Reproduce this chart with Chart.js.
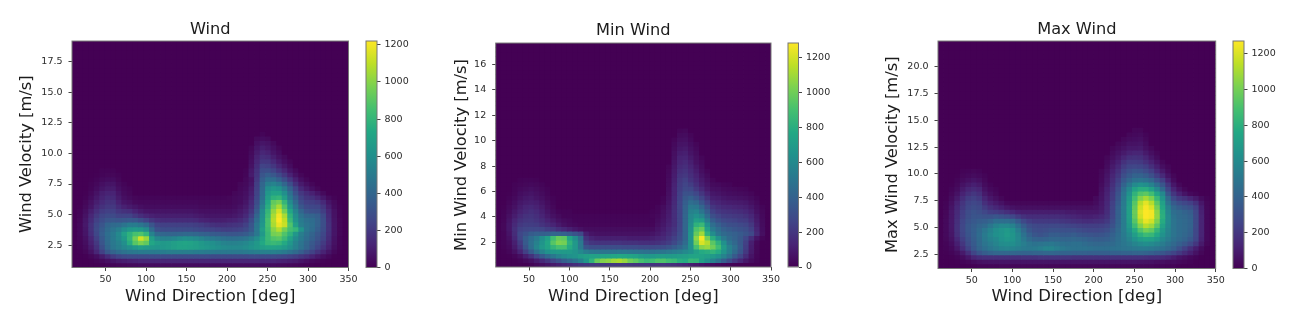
<!DOCTYPE html>
<html lang="en">
<head>
  <meta charset="UTF-8" />
  <title>Wind histograms</title>
  <style>
    body { margin: 0; background: #fff; }
    canvas { position: absolute; top: 0; filter: blur(0.45px); }
  </style>
</head>
<body>
  <canvas id="windHeat" width="362" height="323" style="left:0px"></canvas>
  <canvas id="windBar" width="70" height="323" style="left:360px"></canvas>
  <canvas id="minHeat" width="345" height="323" style="left:440px"></canvas>
  <canvas id="minBar" width="70" height="323" style="left:782px"></canvas>
  <canvas id="maxHeat" width="360" height="323" style="left:870px"></canvas>
  <canvas id="maxBar" width="70" height="323" style="left:1227px"></canvas>

  <script src="https://cdn.jsdelivr.net/npm/chart.js"></script>
  <script>
    // 2d histogram counts. One row per velocity bin, bottom row first,
    // 50 direction bins per row (missing trailing bins and rows are empty)
    const windCounts = [
      [0,0,0,0,0,5,10,15,20,25, 30,35,40,40,40,40,40,40,40,40, 40,40,40,40,40,40,40,40,40,40, 40,40,40,40,40,40,40,35,30,25, 20,15,10,5],
      [0,0,0,5,15,30,50,70,90,100, 110,120,130,130,130,130,130,130,130,130, 130,130,130,130,130,130,130,130,130,130, 130,130,130,130,130,130,130,120,110,100, 90,70,50,30,20,10,5],
      [0,0,5,20,45,90,150,210,250,270, 280,280,280,280,280,280,280,280,280,280, 280,280,280,280,280,270,270,270,270,270, 270,270,280,280,280,280,280,270,260,240, 220,190,160,120,80,50,25,5],
      [0,5,20,60,130,230,330,390,430,460, 480,490,500,500,500,500,510,520,520,520, 520,520,510,510,500,500,490,490,490,490, 490,500,510,520,530,530,530,520,500,460, 420,360,300,240,180,120,70,25,5],
      [0,10,35,90,170,290,400,480,520,560, 600,640,680,660,640,630,640,660,680,700, 700,690,680,660,640,620,600,580,570,570, 570,590,620,650,680,700,700,690,660,600, 530,460,390,320,250,180,110,45,10],
      [5,15,45,110,200,320,420,490,530,600, 750,900,970,920,720,670,650,660,680,700, 710,700,680,650,620,600,570,540,530,530, 540,560,600,650,730,800,820,800,740,640, 540,470,400,340,280,210,130,55,15],
      [5,20,55,130,230,340,430,500,560,650, 790,960,1130,1030,680,560,530,530,550,580, 600,590,570,540,510,490,470,450,440,440, 450,470,520,590,700,820,880,900,820,700, 580,500,430,370,310,240,150,60,15],
      [5,25,70,160,260,360,440,500,570,690, 780,860,880,800,540,420,400,390,390,400, 410,410,400,380,370,350,340,330,320,320, 330,350,400,490,650,820,960,980,880,780, 640,520,450,390,330,260,160,70,20],
      [5,25,75,170,270,350,420,470,520,590, 640,660,650,590,420,300,280,280,280,280, 280,280,270,260,250,240,230,220,220,230, 240,270,340,490,680,840,1000,1080,960,850, 800,620,480,430,360,280,170,70,20],
      [5,25,80,170,260,320,390,420,430,470, 510,510,480,430,320,240,230,230,230,230, 230,230,220,210,190,170,160,160,170,180, 190,230,320,480,640,860,1060,1180,1120,880, 680,520,470,440,380,290,170,70,20],
      [0,20,75,150,230,280,320,330,320,330, 340,330,290,240,190,160,150,150,150,150, 150,150,140,120,110,100,100,100,110,120, 140,180,280,440,620,860,1080,1220,1100,820, 620,500,450,430,380,290,160,65,20],
      [0,15,60,130,200,250,270,270,240,240, 240,200,160,130,110,100,100,100,100,100, 100,100,90,80,70,70,70,70,70,80, 100,140,230,400,600,830,1060,1200,1060,780, 590,460,400,390,360,270,150,60,15],
      [0,10,45,100,160,210,230,230,190,170, 160,120,90,70,65,65,65,65,65,65, 65,65,60,50,50,50,50,50,50,60, 80,110,190,350,580,800,1020,1140,960,720, 540,400,320,300,290,220,130,55,15],
      [0,5,30,70,130,170,200,200,150,110, 90,70,50,40,40,40,40,40,40,40, 40,40,40,30,30,30,30,30,30,40, 60,90,160,310,530,760,960,1060,880,640, 480,330,270,260,250,190,100,40,10],
      [0,0,20,55,100,140,170,170,110,70, 55,30,25,25,25,25,25,25,25,25, 25,25,25,20,20,20,20,20,20,30, 40,70,140,280,490,720,920,960,800,580, 420,280,230,220,200,140,70,30,5],
      [0,0,10,40,80,120,150,140,90,50, 35,20,15,15,15,15,15,15,15,15, 15,15,15,15,15,15,15,15,20,30, 40,60,120,260,450,680,780,800,680,500, 360,240,190,170,130,80,35,10],
      [0,0,5,25,60,100,120,120,70,35, 20,0,0,0,0,0,0,0,0,0, 0,0,0,0,0,0,0,0,0,20, 30,50,100,240,430,640,700,700,600,450, 300,200,150,110,70,30],
      [0,0,0,15,40,70,90,90,50,25, 15,0,0,0,0,0,0,0,0,0, 0,0,0,0,0,0,0,0,0,0, 25,40,90,230,420,600,640,620,520,380, 250,140,90,50,20],
      [0,0,0,10,25,50,65,65,35,15, 0,0,0,0,0,0,0,0,0,0, 0,0,0,0,0,0,0,0,0,0, 20,30,70,220,400,520,540,500,400,290, 170,90,50,20],
      [0,0,0,5,15,30,40,40,20,0, 0,0,0,0,0,0,0,0,0,0, 0,0,0,0,0,0,0,0,0,0, 0,25,60,200,360,440,430,370,290,200, 110,50,20],
      [0,0,0,0,5,15,20,20,10,0, 0,0,0,0,0,0,0,0,0,0, 0,0,0,0,0,0,0,0,0,0, 0,15,90,180,320,360,330,270,200,120, 60,20],
      [0,0,0,0,0,10,10,10,0,0, 0,0,0,0,0,0,0,0,0,0, 0,0,0,0,0,0,0,0,0,0, 0,10,80,170,280,290,250,190,130,70, 30],
      [0,0,0,0,0,0,0,0,0,0, 0,0,0,0,0,0,0,0,0,0, 0,0,0,0,0,0,0,0,0,0, 0,0,60,150,240,230,190,130,80,40],
      [0,0,0,0,0,0,0,0,0,0, 0,0,0,0,0,0,0,0,0,0, 0,0,0,0,0,0,0,0,0,0, 0,0,50,130,190,190,140,90,50,20],
      [0,0,0,0,0,0,0,0,0,0, 0,0,0,0,0,0,0,0,0,0, 0,0,0,0,0,0,0,0,0,0, 0,0,40,110,160,150,100,60,30],
      [0,0,0,0,0,0,0,0,0,0, 0,0,0,0,0,0,0,0,0,0, 0,0,0,0,0,0,0,0,0,0, 0,0,30,90,130,110,70,40],
      [0,0,0,0,0,0,0,0,0,0, 0,0,0,0,0,0,0,0,0,0, 0,0,0,0,0,0,0,0,0,0, 0,0,20,70,100,80,50,20],
      [0,0,0,0,0,0,0,0,0,0, 0,0,0,0,0,0,0,0,0,0, 0,0,0,0,0,0,0,0,0,0, 0,0,0,50,70,60,30],
      [0,0,0,0,0,0,0,0,0,0, 0,0,0,0,0,0,0,0,0,0, 0,0,0,0,0,0,0,0,0,0, 0,0,0,30,40,30],
      [0,0,0,0,0,0,0,0,0,0, 0,0,0,0,0,0,0,0,0,0, 0,0,0,0,0,0,0,0,0,0, 0,0,0,0,15]
    ];
    const minWindCounts = [
      [0,0,0,0,0,0,10,30,50,70, 90,110,130,150,170,190,200,210,210,210, 210,210,210,210,200,190,190,190,190,190, 190,180,170,150,130,110,90,70,50,35, 25,15,10,5],
      [0,0,0,5,15,35,60,100,150,200, 260,320,380,430,490,560,670,820,980,1040, 1060,1100,1120,1080,1000,960,900,860,880,920, 920,880,860,800,780,850,840,720,640,560, 480,380,290,210,140,80,40,15],
      [0,0,5,20,50,110,180,270,360,440, 510,570,610,640,660,700,720,730,730,740, 750,760,770,760,750,730,700,680,680,700, 700,690,700,710,720,740,750,740,720,690, 640,570,470,360,260,160,70,20],
      [0,5,20,60,130,240,360,470,570,650, 680,690,690,690,660,600,540,510,500,500, 500,500,510,510,500,490,490,480,480,490, 500,520,540,560,600,640,720,780,800,830, 780,660,550,440,340,210,90,25],
      [0,10,30,90,190,330,460,580,680,740, 840,900,900,780,680,520,330,300,300,300, 300,300,300,290,290,290,280,280,280,290, 300,330,370,420,500,640,900,1050,1080,1000, 880,700,560,470,360,230,100,25],
      [5,15,40,110,220,360,470,560,660,760, 940,1030,1010,820,680,520,240,200,190,190, 190,190,190,180,180,180,170,170,170,180, 200,230,280,350,450,640,1000,1210,1130,950, 820,640,500,430,350,240,110,30],
      [5,20,55,140,260,370,450,520,620,720, 880,980,960,760,620,460,180,130,110,110, 110,110,110,110,100,100,100,100,110,130, 150,190,240,310,420,660,1060,1270,1010,800, 640,520,440,400,350,270,170,70,20],
      [5,20,70,160,270,320,370,390,390,400, 420,410,400,370,330,280,110,70,60,60, 60,60,60,60,60,60,60,60,70,90, 120,160,210,290,420,660,980,1100,820,620, 500,440,410,390,360,330,280,150,50],
      [5,25,80,170,240,260,270,270,260,230, 210,170,140,110,80,60,40,40,40,40, 40,40,40,40,40,40,40,40,40,70, 100,140,190,270,420,640,920,980,720,530, 450,390,360,340,320,300,240,130,45],
      [5,25,80,150,210,230,230,220,190,160, 130,90,60,40,30,20,20,20,20,20, 20,20,20,20,20,20,20,20,20,50, 80,120,170,260,420,620,820,860,640,460, 390,340,310,300,280,260,210,110,40],
      [0,20,70,130,180,200,210,190,160,120, 90,60,40,30,15,15,15,15,15,15, 15,15,15,15,15,15,15,15,15,40, 70,110,170,260,420,600,720,700,540,380, 320,280,260,250,230,220,170,95,35],
      [0,15,55,100,150,180,190,170,130,90, 60,35,15,15,10,10,10,10,10,10, 10,10,10,10,10,10,10,10,20,30, 60,100,170,260,420,590,640,590,450,310, 260,230,220,210,200,180,140,80,30],
      [0,10,40,80,120,150,170,150,110,70, 40,15,10,10,0,0,0,0,0,0, 0,0,0,0,0,0,0,0,10,20, 50,90,170,260,410,560,580,500,380,250, 210,190,180,170,160,140,110,60,25],
      [0,5,30,60,100,130,140,120,90,50, 25,0,0,0,0,0,0,0,0,0, 0,0,0,0,0,0,0,0,0,15, 40,80,160,260,400,520,510,420,310,200, 170,150,140,130,120,110,80,45,15],
      [0,0,20,45,80,100,110,100,70,40, 15,0,0,0,0,0,0,0,0,0, 0,0,0,0,0,0,0,0,0,0, 20,70,150,260,380,460,430,340,240,150, 130,110,100,95,90,80,55,30],
      [0,0,10,30,60,80,90,70,50,25, 10,0,0,0,0,0,0,0,0,0, 0,0,0,0,0,0,0,0,0,0, 15,60,140,250,350,390,340,260,180,110, 100,80,70,65,60,50,35,15],
      [0,0,5,20,45,60,70,55,35,15, 0,0,0,0,0,0,0,0,0,0, 0,0,0,0,0,0,0,0,0,0, 0,50,130,240,320,320,270,200,130,80, 70,55,45,40,35,30,20],
      [0,0,0,15,30,40,50,40,25,10, 0,0,0,0,0,0,0,0,0,0, 0,0,0,0,0,0,0,0,0,0, 0,45,130,230,280,270,210,150,90,55, 50,35,30,25,20,15],
      [0,0,0,10,20,25,30,25,15,0, 0,0,0,0,0,0,0,0,0,0, 0,0,0,0,0,0,0,0,0,0, 0,40,120,220,260,230,170,110,70,35, 30,20,15],
      [0,0,0,0,10,15,15,10,0,0, 0,0,0,0,0,0,0,0,0,0, 0,0,0,0,0,0,0,0,0,0, 0,35,110,210,240,190,140,90,50,20],
      [0,0,0,0,0,0,0,0,0,0, 0,0,0,0,0,0,0,0,0,0, 0,0,0,0,0,0,0,0,0,0, 0,30,100,190,210,170,120,70,35],
      [0,0,0,0,0,0,0,0,0,0, 0,0,0,0,0,0,0,0,0,0, 0,0,0,0,0,0,0,0,0,0, 0,25,90,170,190,150,100,50,20],
      [0,0,0,0,0,0,0,0,0,0, 0,0,0,0,0,0,0,0,0,0, 0,0,0,0,0,0,0,0,0,0, 0,20,80,150,170,130,80,40],
      [0,0,0,0,0,0,0,0,0,0, 0,0,0,0,0,0,0,0,0,0, 0,0,0,0,0,0,0,0,0,0, 0,0,70,130,150,110,60,30],
      [0,0,0,0,0,0,0,0,0,0, 0,0,0,0,0,0,0,0,0,0, 0,0,0,0,0,0,0,0,0,0, 0,0,60,120,130,90,50,20],
      [0,0,0,0,0,0,0,0,0,0, 0,0,0,0,0,0,0,0,0,0, 0,0,0,0,0,0,0,0,0,0, 0,0,50,100,110,70,40],
      [0,0,0,0,0,0,0,0,0,0, 0,0,0,0,0,0,0,0,0,0, 0,0,0,0,0,0,0,0,0,0, 0,0,40,80,90,60,30],
      [0,0,0,0,0,0,0,0,0,0, 0,0,0,0,0,0,0,0,0,0, 0,0,0,0,0,0,0,0,0,0, 0,0,30,65,70,45,20],
      [0,0,0,0,0,0,0,0,0,0, 0,0,0,0,0,0,0,0,0,0, 0,0,0,0,0,0,0,0,0,0, 0,0,20,50,55,30],
      [0,0,0,0,0,0,0,0,0,0, 0,0,0,0,0,0,0,0,0,0, 0,0,0,0,0,0,0,0,0,0, 0,0,0,35,40,20],
      [0,0,0,0,0,0,0,0,0,0, 0,0,0,0,0,0,0,0,0,0, 0,0,0,0,0,0,0,0,0,0, 0,0,0,20,25]
    ];
    const maxWindCounts = [
      [0,0,0,0,0,5,5,10,10,15, 15,20,20,20,20,20,20,20,20,20, 20,20,20,20,20,20,20,20,20,20, 20,20,20,20,20,20,20,20,20,15, 15,10,10],
      [0,0,0,5,15,25,40,55,60,65, 65,70,70,70,70,70,70,70,70,70, 70,70,70,70,70,70,70,70,70,70, 70,70,70,70,70,70,65,60,60,50, 50,40,40,30,20,10],
      [0,0,5,15,40,80,130,160,170,170, 170,170,170,170,170,180,180,180,190,190, 190,190,190,190,180,180,180,180,180,180, 180,180,180,180,180,180,180,170,160,160, 150,130,100,70,50,30,15],
      [0,5,15,40,90,170,260,330,370,400, 420,420,420,420,410,400,400,410,410,420, 420,410,400,400,390,390,390,380,380,380, 380,390,390,400,400,410,410,400,380,360, 340,300,260,210,160,110,60,20],
      [5,10,30,80,160,250,340,410,460,500, 530,560,570,560,540,520,510,520,540,570, 570,540,510,490,480,480,480,470,460,460, 460,470,480,490,500,510,520,520,510,490, 470,430,380,310,240,170,100,40,5],
      [5,15,45,110,200,290,360,430,490,530, 570,610,620,620,580,540,500,480,490,500, 510,490,470,460,470,470,450,430,420,420, 430,440,470,500,530,570,600,620,600,570, 530,480,430,380,340,280,200,90,20],
      [5,25,60,140,230,310,370,440,510,560, 590,640,670,650,590,510,440,400,390,400, 420,420,410,410,420,410,400,380,370,370, 380,410,460,510,570,640,700,730,720,670, 590,530,470,430,400,350,260,120,30],
      [5,30,75,170,260,330,380,450,520,580, 630,650,690,660,580,480,390,340,320,340, 370,370,360,360,370,350,340,330,320,330, 350,390,450,520,600,700,800,860,840,760, 640,560,490,450,420,380,270,130,30],
      [5,30,80,180,270,340,380,440,500,560, 620,650,680,640,540,430,340,300,290,300, 320,320,310,310,310,290,280,270,270,280, 300,360,430,530,640,780,920,1000,960,830, 680,570,490,450,430,390,270,130,30],
      [5,30,85,180,270,340,370,410,440,500, 560,590,590,560,470,370,300,280,270,270, 280,280,270,260,250,240,230,230,230,240, 260,320,410,530,680,870,1030,1130,1080,940, 730,590,490,450,430,400,280,130,30],
      [5,30,85,170,260,320,350,370,380,410, 460,460,460,430,360,280,230,210,210,210, 210,210,200,190,180,170,160,160,170,180, 210,290,400,530,700,930,1120,1230,1180,1020, 780,600,490,450,430,400,280,130,30],
      [0,25,80,160,240,300,330,330,320,320, 340,320,300,270,220,180,160,160,160,160, 160,160,150,140,130,120,110,110,120,140, 180,270,390,530,720,970,1180,1270,1250,1060, 800,600,480,440,420,390,280,130,30],
      [0,20,80,150,230,290,320,300,270,230, 220,200,170,140,110,100,100,100,100,100, 100,100,100,90,90,80,80,80,80,100, 160,260,390,530,720,980,1200,1270,1250,1050, 790,580,460,430,400,370,270,120,30],
      [0,15,70,140,210,270,290,280,220,170, 140,110,80,60,50,50,50,50,50,50, 50,50,50,50,50,50,50,50,60,90, 150,250,380,530,720,960,1170,1260,1200,1000, 760,550,420,370,340,310,240,110,25],
      [0,10,55,120,190,250,270,250,170,120, 90,60,30,20,20,20,20,20,20,20, 20,20,20,20,20,20,20,20,40,80, 140,240,360,520,700,930,1130,1220,1130,940, 720,490,360,300,270,240,180,80,20],
      [0,5,40,90,160,220,240,210,130,80, 50,20,0,0,0,0,0,0,0,0, 0,0,0,0,0,0,0,0,30,70, 130,220,340,510,680,880,1030,1100,1020,850, 660,430,280,210,180,130,90,40,10],
      [0,0,25,60,120,170,200,170,90,50, 25,0,0,0,0,0,0,0,0,0, 0,0,0,0,0,0,0,0,0,60, 120,210,320,490,640,820,920,950,880,740, 590,340,200,120,70,30,15],
      [0,0,15,40,90,130,150,130,60,30, 15,0,0,0,0,0,0,0,0,0, 0,0,0,0,0,0,0,0,0,50, 110,190,290,460,590,730,790,790,720,590, 440,260,130,60,20],
      [0,0,5,25,60,90,110,90,40,15, 0,0,0,0,0,0,0,0,0,0, 0,0,0,0,0,0,0,0,0,40, 90,170,260,400,510,600,640,620,560,460, 340,200,80,25],
      [0,0,0,15,35,55,70,55,25,0, 0,0,0,0,0,0,0,0,0,0, 0,0,0,0,0,0,0,0,0,30, 80,150,230,350,420,480,490,470,420,330, 240,120,40],
      [0,0,0,5,20,30,40,30,15,0, 0,0,0,0,0,0,0,0,0,0, 0,0,0,0,0,0,0,0,0,25, 70,130,200,300,360,400,400,370,310,230, 150,70,20],
      [0,0,0,0,10,15,20,15,0,0, 0,0,0,0,0,0,0,0,0,0, 0,0,0,0,0,0,0,0,0,20, 55,110,170,260,310,340,330,290,240,160, 90,35],
      [0,0,0,0,0,0,0,0,0,0, 0,0,0,0,0,0,0,0,0,0, 0,0,0,0,0,0,0,0,0,0, 40,90,140,220,260,270,260,230,170,110, 50,20],
      [0,0,0,0,0,0,0,0,0,0, 0,0,0,0,0,0,0,0,0,0, 0,0,0,0,0,0,0,0,0,0, 30,70,110,180,220,220,210,170,120,70, 25],
      [0,0,0,0,0,0,0,0,0,0, 0,0,0,0,0,0,0,0,0,0, 0,0,0,0,0,0,0,0,0,0, 20,50,85,130,170,180,170,130,80,40],
      [0,0,0,0,0,0,0,0,0,0, 0,0,0,0,0,0,0,0,0,0, 0,0,0,0,0,0,0,0,0,0, 0,35,60,90,120,130,130,90,50,20],
      [0,0,0,0,0,0,0,0,0,0, 0,0,0,0,0,0,0,0,0,0, 0,0,0,0,0,0,0,0,0,0, 0,20,40,60,85,85,90,55,25],
      [0,0,0,0,0,0,0,0,0,0, 0,0,0,0,0,0,0,0,0,0, 0,0,0,0,0,0,0,0,0,0, 0,0,25,40,60,60,70,40],
      [0,0,0,0,0,0,0,0,0,0, 0,0,0,0,0,0,0,0,0,0, 0,0,0,0,0,0,0,0,0,0, 0,0,0,25,40,45,50,25],
      [0,0,0,0,0,0,0,0,0,0, 0,0,0,0,0,0,0,0,0,0, 0,0,0,0,0,0,0,0,0,0, 0,0,0,0,25,30,35,15],
      [0,0,0,0,0,0,0,0,0,0, 0,0,0,0,0,0,0,0,0,0, 0,0,0,0,0,0,0,0,0,0, 0,0,0,0,0,20,20]
    ];

    const dirRange = [8.6, 350];
    const dirTicks = [50, 100, 150, 200, 250, 300, 350];
    const windRange = [0.67, 19.2];
    const windTicks = [2.5, 5, 7.5, 10, 12.5, 15, 17.5];
    const minWindRange = [0.05, 17.7];
    const minWindTicks = [2, 4, 6, 8, 10, 12, 14, 16];
    const maxWindRange = [1.16, 22.4];
    const maxWindTicks = [2.5, 5, 7.5, 10, 12.5, 15, 17.5, 20];
    const colorTicks = [0, 200, 400, 600, 800, 1000, 1200];

    const BINS = 50;
    const TEXT = '#2a2a2a';
    const SPINE = '#777';
    const VIRIDIS = ['#440154', '#482475', '#414487', '#355f8d', '#2a788e', '#21918c', '#22a884', '#44bf70', '#7ad151', '#bddf26', '#fde725'];

    Chart.defaults.font.family = "'DejaVu Sans'";
    Chart.defaults.color = TEXT;
    Chart.defaults.animation = false;
    Chart.defaults.plugins.legend.display = false;
    Chart.defaults.plugins.tooltip.enabled = false;

    function hexRgb(h) {
      return [1, 3, 5].map(i => parseInt(h.substr(i, 2), 16));
    }

    function viridis(t) {
      const p = Math.max(0, Math.min(1, t)) * (VIRIDIS.length - 1);
      const i = Math.min(Math.floor(p), VIRIDIS.length - 2);
      const a = hexRgb(VIRIDIS[i]), b = hexRgb(VIRIDIS[i + 1]);
      const c = a.map((v, k) => Math.round(v + (b[k] - v) * (p - i)));
      return `rgb(${c[0]},${c[1]},${c[2]})`;
    }

    // mpl draws a box round the axes
    const framePlugin = {
      id: 'frame',
      afterDraw(chart) {
        const { ctx, chartArea: a } = chart;
        ctx.save();
        ctx.strokeStyle = SPINE;
        ctx.lineWidth = 1;
        ctx.strokeRect(a.left, a.top, a.right - a.left, a.bottom - a.top);
        ctx.restore();
      }
    };

    function fixSize(prop, size) {
      return scale => {
        scale[prop] = size;
        scale.paddingLeft = scale.paddingRight = scale.paddingTop = scale.paddingBottom = 0;
      };
    }

    function tickScale(ticks, format, gap) {
      return {
        afterBuildTicks: s => { s.ticks = ticks.map(value => ({ value })); },
        ticks: { autoSkip: false, maxRotation: 0, padding: gap, font: { size: 9.5 }, callback: format },
        grid: { offset: false, drawOnChartArea: false, tickLength: 3.5, tickColor: '#444' },
        border: { display: false }
      };
    }

    function heatCells(counts, xr, yr) {
      const dx = (xr[1] - xr[0]) / BINS, dy = (yr[1] - yr[0]) / BINS;
      const cells = [];
      for (let r = 0; r < BINS; r++) {
        for (let c = 0; c < BINS; c++) {
          const row = counts[r] || [];
          cells.push({ x: xr[0] + (c + 0.5) * dx, y: [yr[0] + r * dy, yr[0] + (r + 1) * dy], v: row[c] || 0 });
        }
      }
      return cells;
    }

    function drawPanel(p) {
      const lh = 16.3 * 1.2;
      const axisLeft = p.labelX - lh / 2;
      const xLabelBottom = 296.7 + 16.5 * 0.6;
      const canvas = document.getElementById(p.heatId);

      new Chart(canvas, {
        type: 'bar',
        data: {
          datasets: [{
            data: heatCells(p.counts, dirRange, p.velRange),
            backgroundColor: ctx => viridis((ctx.raw ? ctx.raw.v : 0) / p.colorMax),
            borderWidth: 0,
            inflateAmount: 0.4,
            grouped: false,
            barPercentage: 1,
            categoryPercentage: 1
          }]
        },
        options: {
          responsive: false,
          events: [],
          layout: { padding: { left: axisLeft - p.canvasLeft, right: canvas.width - (p.plot[1] - p.canvasLeft), top: 0, bottom: 323 - xLabelBottom } },
          plugins: {
            title: {
              display: true, text: p.title, fullSize: false, color: '#1c1c1c',
              font: { size: 16.2, weight: 'normal' },
              padding: { top: p.titleY - 9.7, bottom: p.plot[2] - p.titleY - 9.7 }
            }
          },
          scales: {
            x: Object.assign(tickScale(dirTicks, v => String(v), 3.3), {
              type: 'linear', offset: false, min: dirRange[0], max: dirRange[1],
              title: { display: true, text: 'Wind Direction [deg]', color: '#1c1c1c', font: { size: 16.5 }, padding: 0 },
              afterFit: fixSize('height', xLabelBottom - p.plot[3])
            }),
            y: Object.assign(tickScale(p.velTicks, v => p.decimals ? v.toFixed(p.decimals) : String(v), 6), {
              type: 'linear', min: p.velRange[0], max: p.velRange[1],
              title: { display: true, text: p.yLabel, color: '#1c1c1c', font: { size: 16.3 }, padding: 0 },
              afterFit: fixSize('width', p.plot[0] - axisLeft)
            })
          }
        },
        plugins: [framePlugin]
      });

      const barCanvas = document.getElementById(p.barId);
      new Chart(barCanvas, {
        type: 'bar',
        data: {
          labels: [''],
          datasets: [{
            data: [[0, p.colorMax]],
            barPercentage: 1,
            categoryPercentage: 1,
            borderWidth: 0,
            backgroundColor: ctx => {
              const a = ctx.chart.chartArea;
              if (!a) return VIRIDIS[0];
              const g = ctx.chart.ctx.createLinearGradient(0, a.bottom, 0, a.top);
              VIRIDIS.forEach((col, i) => g.addColorStop(i / (VIRIDIS.length - 1), col));
              return g;
            }
          }]
        },
        options: {
          responsive: false,
          events: [],
          layout: { padding: { left: p.colorBox[0] - p.barLeft, right: 0, top: p.plot[2], bottom: 323 - p.plot[3] } },
          scales: {
            x: { display: false },
            y: Object.assign(tickScale(colorTicks, v => String(v), 4), {
              position: 'right', min: 0, max: p.colorMax,
              afterFit: fixSize('width', 70 - (p.colorBox[1] - p.barLeft))
            })
          }
        },
        plugins: [framePlugin]
      });
    }

    drawPanel({
      heatId: 'windHeat', barId: 'windBar', canvasLeft: 0, barLeft: 360,
      title: 'Wind', titleY: 30, yLabel: 'Wind Velocity [m/s]', labelX: 27,
      counts: windCounts, velRange: windRange, velTicks: windTicks, decimals: 1,
      plot: [72, 348.5, 41, 267.5], colorBox: [366, 377], colorMax: 1221
    });
    drawPanel({
      heatId: 'minHeat', barId: 'minBar', canvasLeft: 440, barLeft: 782,
      title: 'Min Wind', titleY: 31, yLabel: 'Min Wind Velocity [m/s]', labelX: 462,
      counts: minWindCounts, velRange: minWindRange, velTicks: minWindTicks, decimals: 0,
      plot: [495.7, 771, 43, 267], colorBox: [788, 798.5], colorMax: 1284
    });
    drawPanel({
      heatId: 'maxHeat', barId: 'maxBar', canvasLeft: 870, barLeft: 1227,
      title: 'Max Wind', titleY: 30, yLabel: 'Max Wind Velocity [m/s]', labelX: 892.7,
      counts: maxWindCounts, velRange: maxWindRange, velTicks: maxWindTicks, decimals: 1,
      plot: [938, 1215.7, 41, 268.5], colorBox: [1233, 1244], colorMax: 1272
    });
  </script>
</body>
</html>
